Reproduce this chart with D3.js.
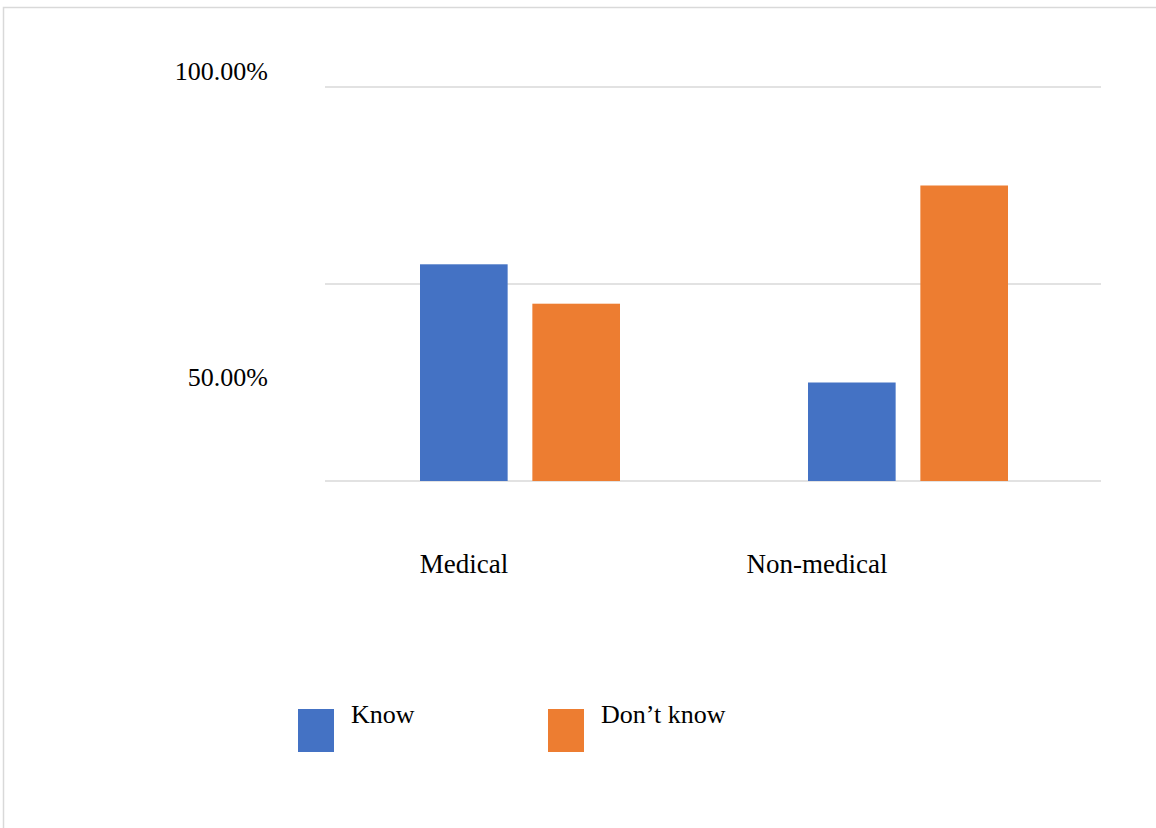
<!DOCTYPE html>
<html>
<head>
  <meta charset="utf-8" />
  <title>Know / Don't know</title>
  <script src="https://cdn.jsdelivr.net/npm/d3@7"></script>
  <style>
    html, body { margin: 0; padding: 0; background: #fff; }
    svg { display: block; }
    text { font-family: "Liberation Serif", "Times New Roman", "DejaVu Serif", serif; fill: #000; }
  </style>
</head>
<body>
  <svg id="chart" width="1156" height="828"></svg>
  <script>
    var categories = ["Medical", "Non-medical"];
    var seriesNames = ["Know", "Don\u2019t know"];
    var knowValues = [55, 25];
    var dontKnowValues = [45, 75];
    var gridValues = [0, 50, 100];
    var tickLabels = ["100.00%", "50.00%"];

    var colors = ["#4472C4", "#ED7D31"];

    var svg = d3.select("#chart");

    // outer frame (runs off the right and bottom edges)
    svg.append("path")
      .attr("d", "M3.5,828 V7.5 H1156")
      .attr("fill", "none")
      .attr("stroke", "#d9d9d9")
      .attr("stroke-width", 1.5);

    var x0 = d3.scaleBand().domain(categories).range([325, 1101]);
    var x1 = d3.scaleBand().domain(seriesNames).range([95, 295]).paddingInner(0.22);
    var y = d3.scaleLinear().domain([0, 100]).range([481, 87]);

    // gridlines
    svg.append("g").selectAll("line")
      .data(gridValues)
      .join("line")
      .attr("x1", 325).attr("x2", 1101)
      .attr("y1", d => y(d)).attr("y2", d => y(d))
      .attr("stroke", "#d9d9d9")
      .attr("stroke-width", 1.5);

    // bars
    var rows = categories.map((c, i) => ({ cat: c, vals: [knowValues[i], dontKnowValues[i]] }));
    var groups = svg.append("g").selectAll("g")
      .data(rows)
      .join("g")
      .attr("transform", d => "translate(" + x0(d.cat) + ",0)");

    groups.selectAll("rect")
      .data(d => d.vals.map((v, j) => ({ key: seriesNames[j], v: v, j: j })))
      .join("rect")
      .attr("x", d => x1(d.key))
      .attr("width", x1.bandwidth())
      .attr("y", d => y(d.v))
      .attr("height", d => y(0) - y(d.v))
      .attr("fill", d => colors[d.j]);

    // y labels (sit off their gridlines in the original)
    var labelY = [80, 386];
    svg.append("g").selectAll("text")
      .data(tickLabels)
      .join("text")
      .attr("x", 268)
      .attr("y", (d, i) => labelY[i])
      .attr("text-anchor", "end")
      .attr("font-size", 26)
      .text(d => d);

    // category labels
    var catShift = [-55, -90];
    svg.append("g").selectAll("text")
      .data(categories)
      .join("text")
      .attr("x", (d, i) => x0(d) + x0.bandwidth() / 2 + catShift[i])
      .attr("y", 573)
      .attr("text-anchor", "middle")
      .attr("font-size", 27)
      .text(d => d);

    // legend
    var legend = svg.append("g").selectAll("g")
      .data(seriesNames)
      .join("g")
      .attr("transform", (d, i) => "translate(" + (298 + i * 250) + ",709)");
    legend.append("rect")
      .attr("width", 36).attr("height", 43)
      .attr("fill", (d, i) => colors[i]);
    legend.append("text")
      .attr("x", 53).attr("y", 14)
      .attr("font-size", 26)
      .text(d => d);
  </script>
</body>
</html>
